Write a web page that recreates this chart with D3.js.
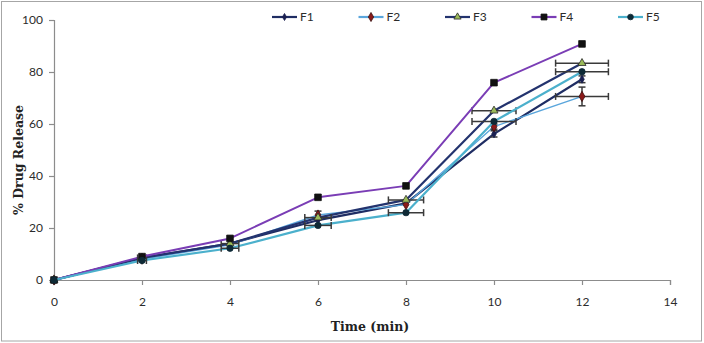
<!DOCTYPE html>
<html>
<head>
<meta charset="utf-8">
<script src="https://cdn.jsdelivr.net/npm/d3@7"></script>
<style>
  html, body { margin: 0; padding: 0; background: #fff; }
  svg { display: block; }
</style>
</head>
<body>
<svg id="chart" width="704" height="343"></svg>
<script>
// Sampling times (min)
const time = [0, 2, 4, 6, 8, 10, 12];

// Cumulative % drug release per formulation
const F1 = [0, 8.5, 14, 23, 29.5, 56.2, 77.2];
const F2 = [0, 8, 13.5, 25, 29, 59, 70.6];
const F3 = [0, 8.5, 14, 24, 30.8, 65.1, 83.4];
const F4 = [0, 9, 16, 31.8, 36.2, 75.9, 90.8];
const F5 = [0, 7.5, 12.2, 21, 25.9, 61, 80.1];

// Error bars: vertical (release, %) and horizontal (time, min)
const F1yErr = [0, 0, 0, 0, 0, 1.2, 1.3];
const F2yErr = [0, 0, 0, 1.5, 0, 1, 3.6];
const F2xErr = [0, 0, 0, 0, 0, 0, 0.6];
const F3xErr = [0, 0.1, 0.2, 0.3, 0.4, 0.5, 0.6];
const F5xErr = [0, 0.1, 0.2, 0.3, 0.4, 0.5, 0.6];

const seriesNames = ["F1", "F2", "F3", "F4", "F5"];
const xTicks = [0, 2, 4, 6, 8, 10, 12, 14];
const yTicks = [0, 20, 40, 60, 80, 100];

const series = [
  { name: "F1", values: F1, yErr: F1yErr, xErr: null, line: "#1f2d63", width: 2.2, symbol: d3.symbolDiamond, size: 18, fill: "#1a2050", stroke: "#1a2050" },
  { name: "F2", values: F2, yErr: F2yErr, xErr: F2xErr, line: "#5aa6dc", width: 1.4, symbol: d3.symbolDiamond, size: 30, fill: "#8b1a1a", stroke: "#3a0f0f" },
  { name: "F3", values: F3, yErr: null, xErr: F3xErr, line: "#23336e", width: 2.2, symbol: d3.symbolTriangle, size: 28, fill: "#9bbb59", stroke: "#2a2a2a" },
  { name: "F4", values: F4, yErr: null, xErr: null, line: "#7a3db5", width: 2, symbol: d3.symbolSquare, size: 44, fill: "#111111", stroke: "#111111" },
  { name: "F5", values: F5, yErr: null, xErr: F5xErr, line: "#4bb0cc", width: 2.2, symbol: d3.symbolCircle, size: 32, fill: "#0e2a36", stroke: "#0e2a36" }
];

const svg = d3.select("#chart");

// Outer frame
svg.append("rect")
  .attr("x", 1.5).attr("y", 1.5)
  .attr("width", 700).attr("height", 339.5)
  .attr("fill", "#fff").attr("stroke", "#a6a6a6").attr("stroke-width", 1);

const x = d3.scaleLinear().domain([0, 14]).range([54, 670]);
const y = d3.scaleLinear().domain([0, 100]).range([280, 20]);

const tickFont = "Lato, 'Liberation Sans', sans-serif";

// Y axis
const yAxis = svg.append("g")
  .attr("transform", `translate(${x(0)},0)`)
  .call(d3.axisLeft(y).tickValues(yTicks).tickSize(5).tickPadding(6));
// X axis
const xAxis = svg.append("g")
  .attr("transform", `translate(0,${y(0)})`)
  .call(d3.axisBottom(x).tickValues(xTicks).tickSize(5).tickPadding(12));

[xAxis, yAxis].forEach(g => {
  g.select(".domain").attr("stroke", "#8c8c8c").attr("stroke-width", 1.2);
  g.selectAll(".tick line").attr("stroke", "#8c8c8c").attr("stroke-width", 1.2);
  g.selectAll(".tick text")
    .attr("fill", "#2b2b2b")
    .style("font-family", tickFont)
    .style("font-size", "12px");
});

// Axis titles
svg.append("text")
  .attr("x", 370).attr("y", 331)
  .attr("text-anchor", "middle")
  .style("font-family", "'DejaVu Serif', 'Liberation Serif', serif")
  .style("font-weight", "bold")
  .style("font-size", "12.5px")
  .attr("fill", "#222")
  .text("Time (min)");

svg.append("text")
  .attr("transform", "translate(23,160) rotate(-90)")
  .attr("text-anchor", "middle")
  .style("font-family", "'DejaVu Serif', 'Liberation Serif', serif")
  .style("font-weight", "bold")
  .style("font-size", "12.5px")
  .attr("fill", "#222")
  .text("% Drug Release");

const line = d3.line().x((d, i) => x(time[i])).y(d => y(d));
const errColor = "#3a3a3a";

series.forEach(s => {
  const g = svg.append("g");
  g.append("path")
    .datum(s.values)
    .attr("d", line)
    .attr("fill", "none")
    .attr("stroke", s.line)
    .attr("stroke-width", s.width)
    .attr("stroke-linejoin", "round");

  // Horizontal error bars
  if (s.xErr) {
    s.values.forEach((v, i) => {
      const e = s.xErr[i];
      if (!e) return;
      const x0 = x(time[i] - e), x1 = x(time[i] + e), yy = y(v);
      g.append("line").attr("x1", x0).attr("x2", x1).attr("y1", yy).attr("y2", yy)
        .attr("stroke", errColor).attr("stroke-width", 1.5);
      [x0, x1].forEach(xx => g.append("line")
        .attr("x1", xx).attr("x2", xx).attr("y1", yy - 3.5).attr("y2", yy + 3.5)
        .attr("stroke", errColor).attr("stroke-width", 1.5));
    });
  }
  // Vertical error bars
  if (s.yErr) {
    s.values.forEach((v, i) => {
      const e = s.yErr[i];
      if (!e) return;
      const y0 = y(v - e), y1 = y(v + e), xx = x(time[i]);
      g.append("line").attr("x1", xx).attr("x2", xx).attr("y1", y0).attr("y2", y1)
        .attr("stroke", errColor).attr("stroke-width", 1.5);
      [y0, y1].forEach(yy => g.append("line")
        .attr("x1", xx - 3.5).attr("x2", xx + 3.5).attr("y1", yy).attr("y2", yy)
        .attr("stroke", errColor).attr("stroke-width", 1.5));
    });
  }

  g.selectAll("path.marker")
    .data(s.values)
    .join("path")
    .attr("class", "marker")
    .attr("transform", (d, i) => `translate(${x(time[i])},${y(d)})`)
    .attr("d", d3.symbol().type(s.symbol).size(s.size))
    .attr("fill", s.fill)
    .attr("stroke", s.stroke)
    .attr("stroke-width", 0.8);
});

// Legend
const legend = svg.append("g");
const legendX = d3.scalePoint().domain(seriesNames).range([272, 618]);
series.forEach(s => {
  const lx = legendX(s.name), ly = 17;
  legend.append("line")
    .attr("x1", lx).attr("x2", lx + 25).attr("y1", ly).attr("y2", ly)
    .attr("stroke", s.line).attr("stroke-width", 2.2);
  legend.append("path")
    .attr("transform", `translate(${lx + 12.5},${ly})`)
    .attr("d", d3.symbol().type(s.symbol).size(s.size * 0.8))
    .attr("fill", s.fill).attr("stroke", s.stroke).attr("stroke-width", 0.8);
  legend.append("text")
    .attr("x", lx + 28).attr("y", ly + 4)
    .style("font-family", tickFont)
    .style("font-size", "12px")
    .attr("fill", "#2b2b2b")
    .text(s.name);
});
</script>
</body>
</html>
